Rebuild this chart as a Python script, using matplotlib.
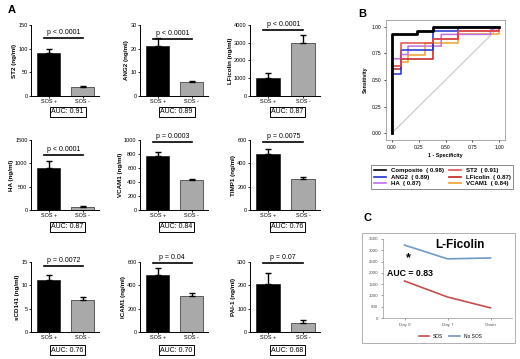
import matplotlib
matplotlib.use('Agg')
import matplotlib.pyplot as plt
from matplotlib.lines import Line2D

plt.rcParams['font.family'] = ['Liberation Sans', 'DejaVu Sans']

W, H = 520, 359

# panel A: bar charts
markers = ['ST2', 'ANG2', 'LFicolin', 'HA', 'VCAM1', 'TIMP1', 'sCD141', 'ICAM1', 'PAI-1']
pos_mean = [90, 21, 1000, 900, 770, 480, 11.2, 490, 205]
pos_err = [10, 3.5, 280, 150, 60, 40, 1.0, 60, 50]
neg_mean = [20, 6, 3000, 60, 430, 270, 6.8, 310, 38]
neg_err = [2, 0.5, 450, 20, 20, 10, 0.7, 25, 12]
ymax = [150, 30, 4000, 1500, 1000, 600, 15, 600, 300]
ystep = [50, 10, 1000, 500, 200, 200, 5, 200, 100]
pvals = ['p < 0.0001', 'p < 0.0001', 'p < 0.0001', 'p < 0.0001', 'p = 0.0003',
         'p = 0.0075', 'p = 0.0072', 'p = 0.04', 'p = 0.07']
aucs = ['0.91', '0.89', '0.87', '0.87', '0.84', '0.76', '0.76', '0.70', '0.68']
groups = ['SOS +', 'SOS -']

# panel B: ROC curves (step points)
roc_names = ['Composite', 'ST2', 'ANG2', 'LFicolin', 'HA', 'VCAM1']
roc_auc = ['0.98', '0.91', '0.89', '0.87', '0.87', '0.84']
roc_fpr = [
    [0, 0, 0.23, 0.23, 0.38, 0.38, 1.0],
    [0, 0, 0.08, 0.08, 0.38, 0.38, 0.62, 0.62, 1.0, 1.0],
    [0, 0, 0.08, 0.08, 0.23, 0.23, 0.38, 0.38, 0.62, 0.62, 1.0],
    [0, 0, 0.08, 0.08, 0.38, 0.38, 0.62, 0.62, 1.0, 1.0],
    [0, 0, 0.08, 0.08, 0.15, 0.15, 0.46, 0.46, 0.92, 0.92, 1.0],
    [0, 0, 0.08, 0.08, 0.15, 0.15, 0.31, 0.31, 0.62, 0.62, 1.0, 1.0],
]
roc_tpr = [
    [0, 0.93, 0.93, 0.96, 0.96, 1.0, 1.0],
    [0, 0.63, 0.63, 0.85, 0.85, 0.89, 0.89, 0.96, 0.96, 1.0],
    [0, 0.56, 0.56, 0.78, 0.78, 0.78, 0.78, 0.96, 0.96, 1.0, 1.0],
    [0, 0.60, 0.60, 0.70, 0.70, 0.89, 0.89, 0.96, 0.96, 1.0],
    [0, 0.70, 0.70, 0.74, 0.74, 0.82, 0.82, 0.93, 0.93, 0.97, 1.0],
    [0, 0.63, 0.63, 0.67, 0.67, 0.74, 0.74, 0.85, 0.85, 0.93, 0.93, 1.0],
]
roc_colors = ['black', '#e05050', '#2030d0', '#c02020', '#c070e0', '#f0a030']

# panel C: L-Ficolin over time
days = ['Day 0', 'Day 7', 'Onset']
sos_vals = [1640, 930, 450]
nosos_vals = [3230, 2620, 2660]


def px_axes(fig, l, t, r, b):
    return fig.add_axes([l / W, 1 - b / H, (r - l) / W, (b - t) / H])


fig = plt.figure(figsize=(5.2, 3.59), dpi=100)

fig.text(8 / W, 1 - 10 / H, 'A', fontsize=8, fontweight='bold', va='center')
fig.text(358 / W, 1 - 14 / H, 'B', fontsize=8, fontweight='bold', va='center')
fig.text(363 / W, 1 - 218 / H, 'C', fontsize=8, fontweight='bold', va='center')

col_x = [(31, 99), (140, 208), (250, 320)]
row_y = [(25, 96), (140, 210), (262, 332)]
auc_y = [112, 227, 350]
pline = [0.82, 0.80, 0.93, 0.79, 0.97, 0.97, 0.94, 0.98, 0.99]

for i, name in enumerate(markers):
    r, c = divmod(i, 3)
    l, rr = col_x[c]
    t, b = row_y[r]
    ax = px_axes(fig, l, t, rr, b)
    ax.bar([0, 1], [pos_mean[i], neg_mean[i]], width=0.69,
           color=['black', '#a9a9a9'], edgecolor='black', linewidth=0.4)
    ax.errorbar([0, 1], [pos_mean[i], neg_mean[i]],
                yerr=[[0, 0], [pos_err[i], neg_err[i]]], fmt='none',
                ecolor='black', elinewidth=1.0, capsize=2.5, capthick=1.0)
    ax.set_xlim(-0.52, 1.48)
    ax.set_ylim(0, ymax[i])
    ax.set_yticks(range(0, ymax[i] + 1, ystep[i]))
    ax.set_xticks([0, 1])
    ax.set_xticklabels(groups)
    ax.tick_params(labelsize=4, length=1.5, width=0.6, pad=1)
    for s in ['top', 'right']:
        ax.spines[s].set_visible(False)
    for s in ['left', 'bottom']:
        ax.spines[s].set_linewidth(0.7)
    ax.set_ylabel(name + ' (ng/ml)', fontsize=4.5, fontweight='bold', labelpad=1)
    yl = pline[i] * ymax[i]
    ax.plot([-0.15, 1.0], [yl, yl], color='black', lw=1.2, clip_on=False)
    ax.text(0.43, yl + 0.03 * ymax[i], pvals[i], fontsize=5, ha='center', va='bottom')
    fig.text((l + rr) / 2 / W + 0.005, 1 - auc_y[r] / H, 'AUC: ' + aucs[i], fontsize=5,
             ha='center', va='center',
             bbox=dict(boxstyle='square,pad=0.25', fc='white', ec='black', lw=0.7))

# panel B
axb = px_axes(fig, 386, 20, 505, 140)
axb.plot([0, 1], [0, 1], color='#c8c8c8', lw=0.8)
for name, fx, ty, col in zip(roc_names[::-1], roc_fpr[::-1], roc_tpr[::-1], roc_colors[::-1]):
    lw = 2.0 if name == 'Composite' else 1.1
    axb.plot(fx, ty, color=col, lw=lw)
axb.set_xlim(-0.056, 1.056)
axb.set_ylim(-0.066, 1.066)
ticks = [0, 0.25, 0.5, 0.75, 1.0]
axb.set_xticks(ticks)
axb.set_yticks(ticks)
axb.set_xticklabels(['%.2f' % v for v in ticks])
axb.set_yticklabels(['%.2f' % v for v in ticks])
axb.tick_params(labelsize=3.5, length=1.5, width=0.5, pad=2)
for s in axb.spines.values():
    s.set_linewidth(0.5)
    s.set_color('#888888')
axb.set_xlabel('1 - Specificity', fontsize=3.8, fontweight='bold', labelpad=2)
axb.set_ylabel('Sensitivity', fontsize=3.8, fontweight='bold', labelpad=3)
handles = [Line2D([], [], color=col, lw=1.2) for col in roc_colors]
labels = ['%s  ( %s)' % (n, a) for n, a in zip(roc_names, roc_auc)]
order = [0, 2, 4, 1, 3, 5]
leg = fig.legend([handles[k] for k in order], [labels[k] for k in order],
                 loc='center', bbox_to_anchor=(442 / W, 1 - 177 / H), ncol=2,
                 frameon=True, fancybox=False, edgecolor='#555555',
                 handlelength=2.0, columnspacing=0.8, borderpad=0.35,
                 labelspacing=0.25, prop={'weight': 'bold', 'size': 4.4})
leg.get_frame().set_linewidth(0.6)

# panel C
fig.patches.append(plt.Rectangle((362 / W, 1 - 343 / H), 153 / W, 110 / H,
                                 transform=fig.transFigure, fill=False,
                                 ec='#b0b0b0', lw=0.7))
axc = px_axes(fig, 383, 239, 512, 318)
xs = list(range(len(days)))
axc.plot(xs, sos_vals, color='#c0504d', lw=1.2, label='SOS')
axc.plot(xs, nosos_vals, color='#6f9ac8', lw=1.2, label='No SOS')
axc.set_xlim(-0.5, 2.5)
axc.set_ylim(0, 3500)
axc.set_yticks(range(0, 3501, 500))
axc.set_xticks(xs)
axc.set_xticklabels(days)
axc.tick_params(labelsize=3.2, length=1.5, width=0.4, pad=2, colors='#555555')
for s in ['top', 'right']:
    axc.spines[s].set_visible(False)
for s in ['left', 'bottom']:
    axc.spines[s].set_linewidth(0.5)
    axc.spines[s].set_color('#999999')
axc.text(1.3, 3250, 'L-Ficolin', fontsize=8.5, fontweight='bold', ha='center', va='center')
axc.text(0.08, 2630, '*', fontsize=9, fontweight='bold', ha='center', va='center')
axc.text(0.12, 1980, 'AUC = 0.83', fontsize=6.3, fontweight='bold', ha='center', va='center')
axc.legend(loc='center', bbox_to_anchor=(0.52, -0.23), ncol=2, fontsize=3.5,
           frameon=False, handlelength=2.2, columnspacing=1.2)

fig.savefig('out.png', dpi=100, facecolor='white')
